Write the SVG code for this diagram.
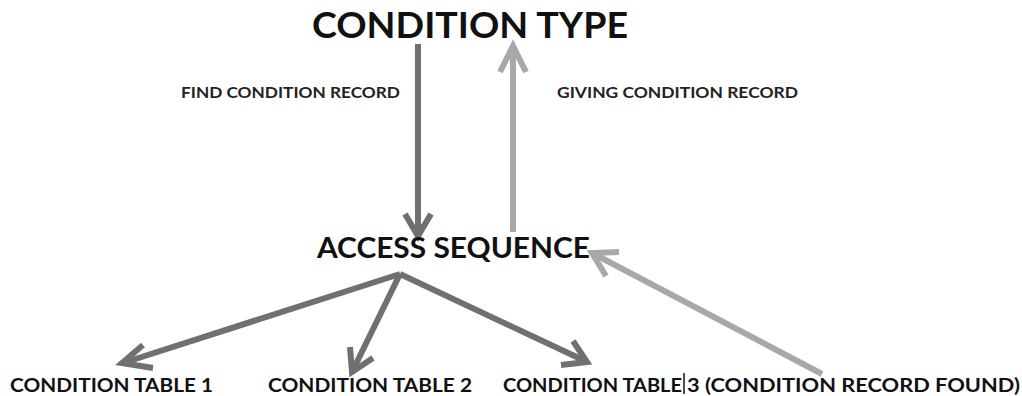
<svg xmlns="http://www.w3.org/2000/svg" width="1022" height="396" viewBox="0 0 1022 396">
<style>
text{font-family:Lato,"Open Sans","Liberation Sans",sans-serif;fill:#111;font-weight:bold}
.title{font-size:37px}
.seq{font-size:28px}
.lbl{font-size:15.5px;fill:#222}
.tbl{font-size:19.5px}
.dark{stroke:#707070;stroke-width:6;fill:none;stroke-linecap:butt;stroke-linejoin:miter}
.light{stroke:#a8a8a8;stroke-width:6;fill:none;stroke-linecap:butt;stroke-linejoin:miter}
</style>
<rect width="1022" height="396" fill="#fff"/>
<g id="connectors">
  <g id="find">
    <line class="dark" x1="418" y1="44" x2="418" y2="232"/>
    <polyline class="dark" points="405,214 418,236 431,214"/>
  </g>
  <g id="giving">
    <line class="light" x1="513" y1="232" x2="513" y2="50"/>
    <polyline class="light" points="500,72 513,46 526,72"/>
  </g>
  <g id="to-t1">
    <line class="dark" x1="400" y1="274" x2="126" y2="362"/>
    <polyline class="dark" points="143,345 122,363 153,368"/>
  </g>
  <g id="to-t2">
    <line class="dark" x1="400" y1="274" x2="354" y2="368"/>
    <polyline class="dark" points="350,347 352,372 373,358"/>
  </g>
  <g id="to-t3">
    <line class="dark" x1="400" y1="274" x2="583" y2="360"/>
    <polyline class="dark" points="573,341 587,362 561,365"/>
  </g>
  <g id="found">
    <line class="light" x1="822" y1="374" x2="596" y2="255"/>
    <polyline class="light" points="606,276 592,253 619,252"/>
  </g>
</g>
<g id="condition-type">
  <text class="title" x="312" y="38" textLength="316" lengthAdjust="spacingAndGlyphs">CONDITION TYPE</text>
</g>
<g id="label-find">
  <text class="lbl" x="181" y="98" textLength="219" lengthAdjust="spacingAndGlyphs">FIND CONDITION RECORD</text>
</g>
<g id="label-giving">
  <text class="lbl" x="557" y="98" textLength="241" lengthAdjust="spacingAndGlyphs">GIVING CONDITION RECORD</text>
</g>
<g id="access-sequence">
  <text class="seq" x="317" y="258" textLength="273" lengthAdjust="spacingAndGlyphs">ACCESS SEQUENCE</text>
</g>
<g id="table-1">
  <text class="tbl" x="10" y="392" textLength="203" lengthAdjust="spacingAndGlyphs">CONDITION TABLE 1</text>
</g>
<g id="table-2">
  <text class="tbl" x="268" y="392" textLength="204" lengthAdjust="spacingAndGlyphs">CONDITION TABLE 2</text>
</g>
<g id="table-3">
  <text class="tbl" x="503" y="392" textLength="179" lengthAdjust="spacingAndGlyphs">CONDITION TABLE</text>
  <text class="tbl" x="687" y="392" textLength="333" lengthAdjust="spacingAndGlyphs">3 (CONDITION RECORD FOUND)</text>
  <line x1="684" y1="373" x2="684" y2="394" stroke="#111" stroke-width="1.5"/>
</g>
</svg>
